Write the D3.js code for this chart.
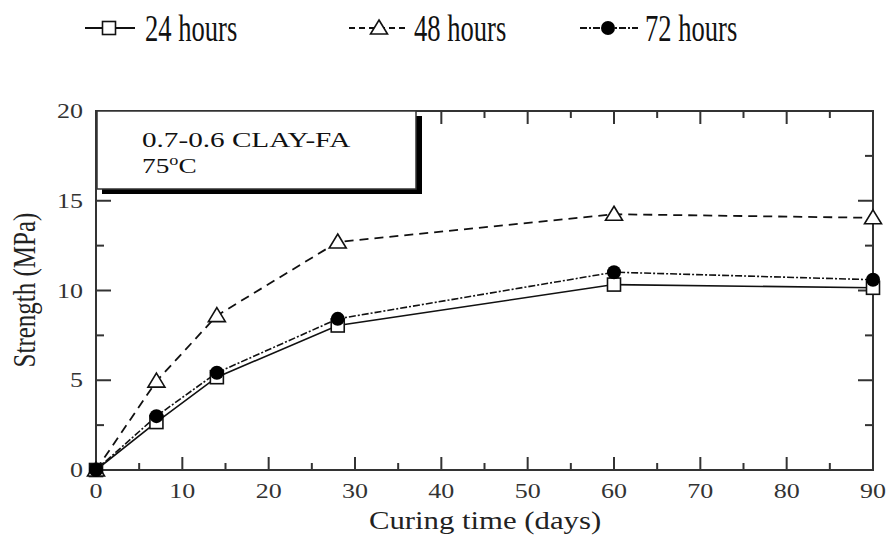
<!DOCTYPE html>
<html><head><meta charset="utf-8">
<script src="https://cdn.jsdelivr.net/npm/d3@7"></script>
<style>body{margin:0;background:#fff}svg{display:block}</style>
</head><body><svg id="c" width="887" height="542" font-family="'Liberation Serif', 'DejaVu Serif', serif"></svg>
<script>
const days = [0, 7, 14, 28, 60, 90];
const h24 = [0, 2.67, 5.17, 8.05, 10.33, 10.15];
const h48 = [0, 4.95, 8.6, 12.7, 14.25, 14.05];
const h72 = [0, 3.0, 5.42, 8.42, 11.02, 10.6];
const seriesNames = ["24 hours", "48 hours", "72 hours"];
const xTicks = [0, 10, 20, 30, 40, 50, 60, 70, 80, 90];
const yTicks = [0, 5, 10, 15, 20];
const boxText = ["0.7-0.6 CLAY-FA", "75", "o", "C"];

const svg = d3.select("#c");
const L = 96, R = 873, T = 111, B = 470;
const x = d3.scaleLinear().domain([0, 90]).range([L, R]);
const y = d3.scaleLinear().domain([0, 20]).range([B, T]);
const ax = "#333";
const SX = 1.3;

function txt(px, py, str, size, anchor, sx, fill) {
  return svg.append("text").attr("transform", `translate(${px},${py}) scale(${sx},1)`)
    .attr("font-size", size).attr("text-anchor", anchor).attr("fill", fill).text(str);
}

const xMinor = d3.range(5, 90, 10), yMinor = d3.range(2.5, 20, 5);
const g = svg.append("g").attr("stroke", ax).attr("stroke-width", 2);
function addX(vals, len) {
  vals.forEach(v => {
    g.append("line").attr("x1", x(v)).attr("x2", x(v)).attr("y1", B).attr("y2", B - len);
    g.append("line").attr("x1", x(v)).attr("x2", x(v)).attr("y1", T).attr("y2", T + len);
  });
}
function addY(vals, len) {
  vals.forEach(v => {
    g.append("line").attr("y1", y(v)).attr("y2", y(v)).attr("x1", L).attr("x2", L + len);
    g.append("line").attr("y1", y(v)).attr("y2", y(v)).attr("x1", R).attr("x2", R - len);
  });
}
addX(xTicks.slice(1, -1), 13); addX(xMinor, 7);
addY(yTicks.slice(1, -1), 15); addY(yMinor, 8);
svg.append("rect").attr("x", L).attr("y", T).attr("width", R - L).attr("height", B - T)
  .attr("fill", "none").attr("stroke", ax).attr("stroke-width", 2);

xTicks.forEach(d => txt(x(d), 498, d, 20, "middle", SX, "#333"));
yTicks.forEach(d => txt(83, y(d) + 7, d, 20, "end", SX, "#333"));

txt(485, 529, "Curing time (days)", 25, "middle", 1.23, "#222");
svg.append("text").attr("transform", `translate(35,290) scale(${SX},1) rotate(-90)`).attr("text-anchor", "middle")
  .attr("font-size", 25).attr("fill", "#222").text("Strength (MPa)");

svg.append("rect").attr("x", 102).attr("y", 116).attr("width", 320).attr("height", 78).attr("fill", "#000");
svg.append("rect").attr("x", 97).attr("y", 111).attr("width", 319).attr("height", 78)
  .attr("fill", "#fff").attr("stroke", "#333").attr("stroke-width", 1.5);
txt(142, 147, boxText[0], 21, "start", 1.39, "#111");
const t2 = txt(142, 173, boxText[1], 21, "start", 1.3, "#111");
t2.append("tspan").attr("dy", -8).attr("font-size", 14).text(boxText[2]);
t2.append("tspan").attr("dy", 8).text(boxText[3]);

const series = [
  {vals: h24, dash: null, w: 1.6, marker: "square"},
  {vals: h48, dash: "9,6", w: 1.8, marker: "triangle"},
  {vals: h72, dash: "7,2,2,2", w: 1.6, marker: "circle"}
];
const line = d3.line().x(d => x(d[0])).y(d => y(d[1]));
series.forEach(s => {
  const pts = days.map((d, i) => [d, s.vals[i]]);
  svg.append("path").datum(pts).attr("d", line).attr("fill", "none")
    .attr("stroke", "#111").attr("stroke-width", s.w).attr("stroke-dasharray", s.dash);
});
function drawMarker(sel, type, cx, cy, fill) {
  if (type === "square") sel.append("rect").attr("x", cx - 6.5).attr("y", cy - 6.5).attr("width", 13).attr("height", 13)
    .attr("fill", fill).attr("stroke", "#111").attr("stroke-width", 1.6);
  else if (type === "triangle") sel.append("path")
    .attr("d", `M${cx},${cy - 8}L${cx + 8.5},${cy + 6}L${cx - 8.5},${cy + 6}Z`)
    .attr("fill", "#fff").attr("stroke", "#111").attr("stroke-width", 1.6);
  else sel.append("circle").attr("cx", cx).attr("cy", cy).attr("r", 7).attr("fill", "#000");
}
series.forEach(s => {
  days.forEach((d, i) => drawMarker(svg, s.marker, x(d), y(s.vals[i]), d === 0 ? "#000" : "#fff"));
});

const leg = [
  {x1: 85, x2: 135, mx: 109, tx: 145, s: series[0], dash: null},
  {x1: 349, x2: 408, mx: 379, tx: 414, s: series[1], dash: "6,4"},
  {x1: 580, x2: 638, mx: 608, tx: 645, s: series[2], dash: "7,2,2,2"}
];
leg.forEach((l, i) => {
  const ly = 28;
  svg.append("line").attr("x1", l.x1).attr("x2", l.x2).attr("y1", ly).attr("y2", ly)
    .attr("stroke", "#111").attr("stroke-width", 2.2).attr("stroke-dasharray", l.dash);
  drawMarker(svg, l.s.marker, l.mx, ly, "#fff");
  txt(l.tx, 41, seriesNames[i], 38, "start", 0.7, "#111");
});
</script></body></html>
